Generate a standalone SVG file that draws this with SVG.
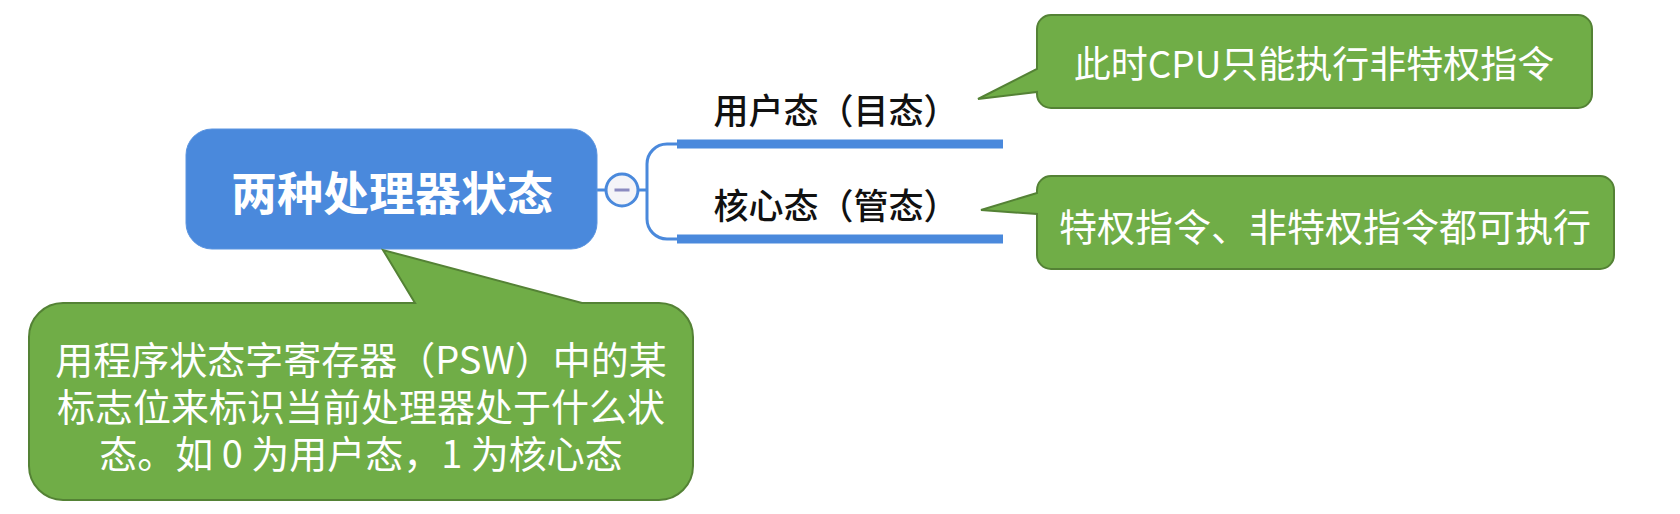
<svg xmlns="http://www.w3.org/2000/svg" width="1680" height="514" viewBox="0 0 1680 514">
  <style>
    .callout { fill: #70AD47; stroke: #548235; stroke-width: 2; }
    .ctext { fill: #FFFFFF; font-family: "Noto Sans CJK SC", "Noto Sans", sans-serif; font-size: 38px; text-anchor: middle; dominant-baseline: central; }
    .label { fill: #111111; font-family: "Noto Sans CJK SC", "Noto Sans", sans-serif; font-size: 35px; font-weight: 500; text-anchor: middle; dominant-baseline: central; }
    .thin { fill: none; stroke: #4A89DC; stroke-width: 3; }
    .bar { fill: #4A89DC; }
  </style>

  <g id="connectors">
    <path class="thin" d="M597,190 H606 M638,190 H647 M677,144 H667 A20,20 0 0 0 647,164 V219 A20,20 0 0 0 667,239 H677"/>
    <rect class="bar" x="677" y="139.5" width="326" height="9"/>
    <rect class="bar" x="677" y="234.5" width="326" height="9"/>
  </g>

  <g id="root">
    <rect x="186" y="129" width="411" height="120" rx="26" fill="#4A89DC" stroke="#5A94E0" stroke-width="1"/>
    <text x="392" y="190" fill="#FFFFFF" font-family="Noto Sans CJK SC, Noto Sans, sans-serif" font-size="46" font-weight="bold" text-anchor="middle" dominant-baseline="central">两种处理器状态</text>
  </g>

  <g id="collapse">
    <circle cx="622" cy="190" r="16" fill="#F4F4F8" stroke="#4A89DC" stroke-width="3"/>
    <line x1="614.5" y1="190" x2="629.5" y2="190" stroke="#8A8AC0" stroke-width="3"/>
  </g>

  <g id="user-mode">
    <text class="label" x="836" y="108">用户态（目态）</text>
  </g>

  <g id="kernel-mode">
    <text class="label" x="836" y="203">核心态（管态）</text>
  </g>

  <g id="note-user">
    <path class="callout" d="M1051,15 H1578 A14,14 0 0 1 1592,29 V94 A14,14 0 0 1 1578,108 H1051 A14,14 0 0 1 1037,94 V92 L978,99 L1037,69 V29 A14,14 0 0 1 1051,15 Z"/>
    <text class="ctext" x="1314" y="62" style="font-size:37px">此时CPU只能执行非特权指令</text>
  </g>

  <g id="note-kernel">
    <path class="callout" d="M1051,176 H1600 A14,14 0 0 1 1614,190 V255 A14,14 0 0 1 1600,269 H1051 A14,14 0 0 1 1037,255 V214 L981,210 L1037,193 V190 A14,14 0 0 1 1051,176 Z"/>
    <text class="ctext" x="1325" y="224">特权指令、非特权指令都可执行</text>
  </g>

  <g id="note-psw">
    <path class="callout" d="M63,303 H415 L383,250 L582,303 H659 A34,34 0 0 1 693,337 V466 A34,34 0 0 1 659,500 H63 A34,34 0 0 1 29,466 V337 A34,34 0 0 1 63,303 Z"/>
    <text class="ctext" x="361" y="357">用程序状态字寄存器（PSW）中的某</text>
    <text class="ctext" x="361" y="404">标志位来标识当前处理器处于什么状</text>
    <text class="ctext" x="361" y="451">态。如 0 为用户态，1 为核心态</text>
  </g>
</svg>
